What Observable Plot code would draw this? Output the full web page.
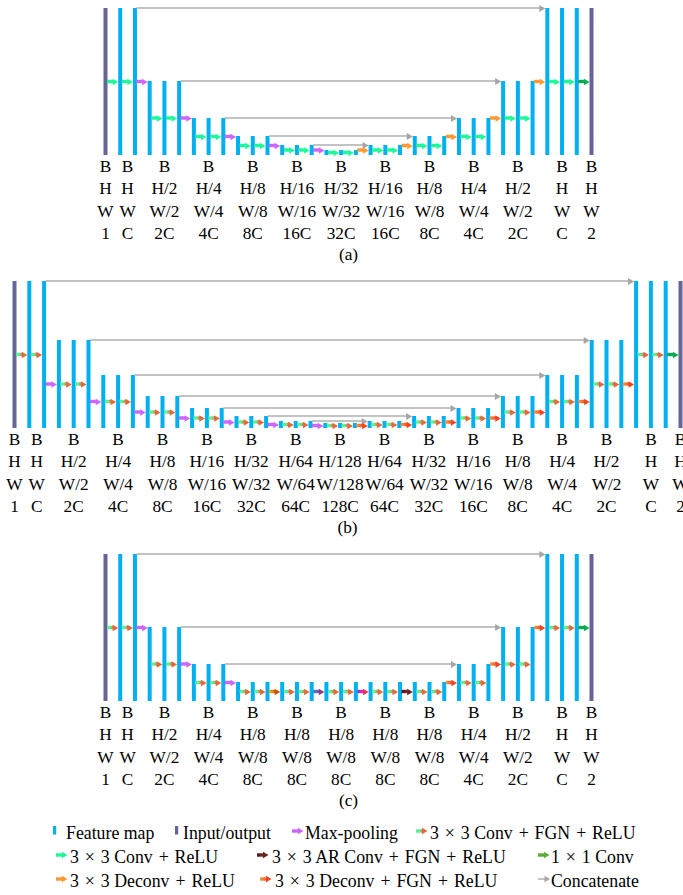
<!DOCTYPE html>
<html><head><meta charset="utf-8">
<script src="https://cdn.jsdelivr.net/npm/d3@7"></script>
<script src="https://cdn.jsdelivr.net/npm/@observablehq/plot@0.6"></script>
<style>
body{margin:0;background:#fff;}
#root{width:683px;position:relative;font-family:"Liberation Serif","Times New Roman",serif;color:#000;}
#root svg{display:block;}
#legend{position:relative;width:683px;height:76px;font-size:17.8px;}
#legend .t{position:absolute;white-space:nowrap;line-height:20px;}
#legend .op{margin:0 1.5px;}
#legend svg.ic{position:absolute;}
</style></head><body><div id="root"></div>
<script>
// ---------------- DATA ----------------
// panel (a)
const aGroupSizes  = [1,2,3,3,3,3,3,3,3,3,3,3,1];
const aGroupLevels = [0,0,1,2,3,4,5,4,3,2,1,0,0];
const aLevelHeights = [147,74,37,19,10,5];
const aRowH = ["H","H","H/2","H/4","H/8","H/16","H/32","H/16","H/8","H/4","H/2","H","H"];
const aRowW = ["W","W","W/2","W/4","W/8","W/16","W/32","W/16","W/8","W/4","W/2","W","W"];
const aRowC = ["1","C","2C","4C","8C","16C","32C","16C","8C","4C","2C","C","2"];
const aOps = ["c","c","p","c","c","p","c","c","p","c","c","p","c","c","p",
              "c","c","d","c","c","d","c","c","d","c","c","d","c","c","d","c","c","o"];
const aConcat = [[2,30],[5,27],[8,24],[11,21],[14,18]];

// panel (b)
const bGroupSizes  = [1,2,3,3,3,3,3,3,3,3,3,3,3,3,3,3,1];
const bGroupLevels = [0,0,1,2,3,4,5,6,7,6,5,4,3,2,1,0,0];
const bLevelHeights = [147,88,53,32,20,12,7,5];
const bRowH = ["H","H","H/2","H/4","H/8","H/16","H/32","H/64","H/128","H/64","H/32","H/16","H/8","H/4","H/2","H","H"];
const bRowW = ["W","W","W/2","W/4","W/8","W/16","W/32","W/64","W/128","W/64","W/32","W/16","W/8","W/4","W/2","W","W"];
const bRowC = ["1","C","2C","4C","8C","16C","32C","64C","128C","64C","32C","16C","8C","4C","2C","C","2"];
const bOps = ["f","f","p","f","f","p","f","f","p","f","f","p","f","f","p","f","f","p","f","f","p",
              "f","f","D","f","f","D","f","f","D","f","f","D","f","f","D","f","f","D","f","f","D","f","f","o"];
const bConcat = [[2,42],[5,39],[8,36],[11,33],[14,30],[17,27],[20,24]];

// panel (c)
const cGroupSizes  = [1,2,3,3,3,3,3,3,3,3,3,3,1];
const cGroupLevels = [0,0,1,2,3,3,3,3,3,2,1,0,0];
const cLevelHeights = [147,74,37,19];
const cRowH = ["H","H","H/2","H/4","H/8","H/8","H/8","H/8","H/8","H/4","H/2","H","H"];
const cRowW = ["W","W","W/2","W/4","W/8","W/8","W/8","W/8","W/8","W/4","W/2","W","W"];
const cRowC = ["1","C","2C","4C","8C","8C","8C","8C","8C","4C","2C","C","2"];
const cOps = ["f","f","p","f","f","p","f","f","p","f","f","a1","f","f","a2","f","f","a3","f","f","a4",
              "f","f","D","f","f","D","f","f","D","f","f","o"];
const cConcat = [[2,30],[5,27],[8,24]];

const captions = ["(a)","(b)","(c)"];

const legendLabels = ["Feature map","Input/output","Max-pooling","3 × 3 Conv + FGN + ReLU",
  "3 × 3 Conv + ReLU","3 × 3 AR Conv + FGN + ReLU","1 × 1 Conv",
  "3 × 3 Deconv + ReLU","3 × 3 Deconv + FGN + ReLU","Concatenate"];
const legendKinds = ["bar","io","p","f","c","a4","o1","d","D","g"];

// ---------------- STYLE ----------------
const FONT = "Liberation Serif, Times New Roman, serif";
const FS = 17.3;
const BLUE = "#00b0f0", IOC = "#65659a";
const OPS = {
  c:  {fill: "#1ff79a"},
  p:  {fill: "#cc66ff"},
  d:  {fill: "#ff9933"},
  o:  {fill: "#0ea84f"},
  o1: {fill: "#5fab3a"},
  f:  {grad: ["#50f59e", "#62f096", "#e8703a"], head: "#e4683a"},
  D:  {grad: ["#ff9d3c", "#f25228"], head: "#f04422"},
  a1: {grad: ["#e8b800", "#d86010"], head: "#c85412"},
  a2: {grad: ["#2f8af0", "#8a4a8c"], head: "#8a3f78"},
  a3: {grad: ["#8a2cff", "#ff2e78"], head: "#ff2a5e"},
  a4: {grad: ["#561414", "#7c2c2c"], head: "#6a2222"}
};
const ns = "http://www.w3.org/2000/svg";

function defsMark(prefix) {
  return () => {
    const defs = document.createElementNS(ns, "defs");
    for (const [k, s] of Object.entries(OPS)) {
      if (!s.grad) continue;
      const lg = document.createElementNS(ns, "linearGradient");
      lg.setAttribute("id", prefix + k);
      lg.setAttribute("x1", "0"); lg.setAttribute("y1", "0");
      lg.setAttribute("x2", "1"); lg.setAttribute("y2", "0");
      s.grad.forEach((c, j) => {
        const st = document.createElementNS(ns, "stop");
        st.setAttribute("offset", String(j / (s.grad.length - 1)));
        st.setAttribute("stop-color", c);
        lg.appendChild(st);
      });
      defs.appendChild(lg);
    }
    return defs;
  };
}

function panel(p) {
  const bars = [];
  p.sizes.forEach((n, g) => {
    for (let k = 0; k < n; k++) bars.push({i: bars.length, g, h: p.heights[p.levels[g]], io: g === 0 || g === p.sizes.length - 1});
  });
  const N = bars.length;
  let start = 0;
  const cols = p.sizes.map((n, g) => {
    const x = start + (n - 1) / 2; start += n;
    return {x, B: "B", H: p.rowH[g], W: p.rowW[g], C: p.rowC[g]};
  });
  const lvl = i => p.levels[bars[i].g];
  const gaps = p.ops.map((op, i) => {
    const L = p.transition === "smaller" ? Math.max(lvl(i), lvl(i + 1)) : Math.min(lvl(i), lvl(i + 1));
    return {i, op, y: p.heights[L] / 2};
  });
  const concat = p.concat.map(([s, t]) => ({s, t, top: bars[s].h}));

  const marks = [defsMark(p.id)];
  marks.push(Plot.ruleX(bars.filter(d => !d.io), {x: "i", y1: 0, y2: "h", stroke: BLUE, strokeWidth: 4}));
  marks.push(Plot.ruleX(bars.filter(d => d.io), {x: "i", y1: 0, y2: "h", stroke: IOC, strokeWidth: 4}));
  // concatenate arrows
  marks.push(Plot.rect(concat, {x1: "s", x2: "t", y1: d => d.top - 0.8, y2: d => d.top + 0.8,
    insetLeft: 2, insetRight: 6, fill: "#b5b5b5"}));
  marks.push(Plot.dot(concat, {x: "t", y: "top", symbol: "triangle", rotate: 90, r: 2.6, fill: "#a6a6a6", dx: -6}));
  // operation arrows
  for (const op of new Set(p.ops)) {
    const s = OPS[op];
    const data = gaps.filter(d => d.op === op);
    marks.push(Plot.rect(data, {x1: "i", x2: d => d.i + 1, y1: d => d.y - 1.7, y2: d => d.y + 1.7,
      insetLeft: 2, insetRight: 6.5, fill: s.grad ? `url(#${p.id}${op})` : s.fill}));
    marks.push(Plot.dot(data, {x: d => d.i + 1, y: "y", symbol: "triangle", rotate: 90, r: 2.4,
      fill: s.grad ? s.head : s.fill, dx: -5.7}));
  }
  // labels
  ["B", "H", "W", "C"].forEach((k, r) => {
    marks.push(Plot.text(cols, {x: "x", y: 0, text: k, dy: 11 + r * 22.4, fontSize: FS, fontFamily: FONT, fill: "#000"}));
  });
  marks.push(Plot.text([p.caption], {x: (N - 1) / 2, y: 0, text: d => d, dy: 99, fontSize: FS, fontFamily: FONT, fill: "#000"}));

  return Plot.plot({
    width: 683, height: 273,
    marginLeft: p.left, marginRight: 683 - p.right, marginTop: 8, marginBottom: 118,
    x: {domain: [0, N - 1], axis: null},
    y: {domain: [0, 147], axis: null},
    style: {fontFamily: FONT, background: "#fff", overflow: "visible"},
    marks
  });
}

const root = document.getElementById("root");
root.appendChild(panel({id: "ga", sizes: aGroupSizes, levels: aGroupLevels, heights: aLevelHeights,
  rowH: aRowH, rowW: aRowW, rowC: aRowC, ops: aOps, concat: aConcat, transition: "larger",
  left: 105, right: 591, caption: captions[0]}));
root.appendChild(panel({id: "gb", sizes: bGroupSizes, levels: bGroupLevels, heights: bLevelHeights,
  rowH: bRowH, rowW: bRowW, rowC: bRowC, ops: bOps, concat: bConcat, transition: "smaller",
  left: 14, right: 680, caption: captions[1]}));
root.appendChild(panel({id: "gc", sizes: cGroupSizes, levels: cGroupLevels, heights: cLevelHeights,
  rowH: cRowH, rowW: cRowW, rowC: cRowC, ops: cOps, concat: cConcat, transition: "larger",
  left: 105, right: 591, caption: captions[2]}));

// ---------------- LEGEND ----------------
const legendLayout = [ // [row, iconX, textX]
  [0,53,66],[0,175,183],[0,292,305],[0,416,430],
  [1,56,70],[1,257,272],[1,538,551],
  [2,56,70],[2,260,275],[2,538,551]
];
const rowBase = [19.6, 43.6, 67.6];
const legend = document.createElement("div");
legend.id = "legend";
let gid = 0;
const fmt = s => s.replace(/ ([×+]) /g, ' <span class="op">$1</span> ');
legendLabels.forEach((label, k) => {
  const [row, ix, tx] = legendLayout[k];
  const kind = legendKinds[k];
  const base = rowBase[row];
  let svg;
  if (kind === "bar" || kind === "io") {
    svg = `<svg class="ic" width="4" height="9" style="left:${ix}px;top:${base - 12.5}px"><rect x="0" y="0" width="3.2" height="8.5" fill="${kind === "bar" ? BLUE : IOC}"/></svg>`;
  } else if (kind === "g") {
    svg = `<svg class="ic" width="13" height="10" style="left:${ix}px;top:${base - 13}px"><rect x="0" y="4.2" width="7.5" height="1.6" fill="#b5b5b5"/><polygon points="6.5,1.8 12,5 6.5,8.2" fill="#a6a6a6"/></svg>`;
  } else {
    const s = OPS[kind];
    let fill = s.fill, head = s.fill, defs = "";
    if (s.grad) {
      const id = "lg" + (gid++);
      defs = `<defs><linearGradient id="${id}" x1="0" y1="0" x2="1" y2="0">${s.grad.map((c, j) => `<stop offset="${j / (s.grad.length - 1)}" stop-color="${c}"/>`).join("")}</linearGradient></defs>`;
      fill = `url(#${id})`; head = s.head;
    }
    svg = `<svg class="ic" width="13" height="10" style="left:${ix}px;top:${base - 13}px">${defs}<rect x="0" y="3.3" width="7" height="3.4" fill="${fill}"/><polygon points="6,1.7 11.5,5 6,8.3" fill="${head}"/></svg>`;
  }
  legend.insertAdjacentHTML("beforeend", svg + `<span class="t" style="left:${tx}px;top:${base - 16}px">${fmt(label)}</span>`);
});
root.appendChild(legend);
</script></body></html>
